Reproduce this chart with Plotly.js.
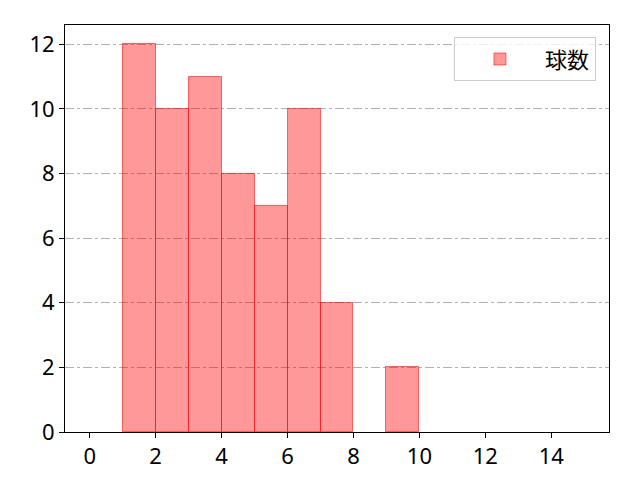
<!DOCTYPE html>
<html>
<head>
<meta charset="utf-8">
<script src="https://cdn.plot.ly/plotly-3.0.1.min.js"></script>
<style>body{margin:0;background:#fff}#chart{width:640px;height:480px}</style>
</head>
<body>
<div id="chart"></div>
<script>
// histogram bins (left edges) and counts
var binLeft = [1, 2, 3, 4, 5, 6, 7, 8, 9];
var counts = [12, 10, 11, 8, 7, 10, 4, 0, 2];
var seriesName = '球数';
var xTicks = [0, 2, 4, 6, 8, 10, 12, 14];
var yTicks = [0, 2, 4, 6, 8, 10, 12];

var trace = {
  x: binLeft.map(function (b) { return b + 0.5; }),
  y: counts,
  width: 1,
  type: 'bar',
  name: seriesName,
  showlegend: true,
  marker: {
    color: 'rgba(255,0,0,0.4)',
    // no outline on empty bins
    line: {color: 'rgba(255,0,0,0.55)', width: counts.map(function (c) { return c > 0 ? 1 : 0; })}
  }
};

var tickFont = {family: '"Noto Sans", sans-serif', size: 22, color: '#000'};

var layout = {
  width: 640, height: 480,
  margin: {l: 65, r: 31, t: 25, b: 48},
  font: {family: '"Noto Sans CJK JP", sans-serif', size: 20, color: '#000'},
  paper_bgcolor: '#fff', plot_bgcolor: '#fff',
  bargap: 0,
  xaxis: {
    range: [-0.75, 15.75], tickvals: xTicks, ticks: 'outside', ticklen: 5, tickcolor: '#000',
    tickfont: tickFont,
    showgrid: false, zeroline: false, showline: true, mirror: true, linecolor: '#000', linewidth: 1
  },
  yaxis: {
    range: [0, 12.6], tickvals: yTicks, ticks: 'outside', ticklen: 5, tickcolor: '#000',
    tickfont: tickFont,
    showgrid: true, gridcolor: '#b0b0b0', griddash: 'dashdot', gridwidth: 1,
    zeroline: false, showline: true, mirror: true, linecolor: '#000', linewidth: 1
  },
  showlegend: true,
  legend: {
    x: 0.976, y: 0.97, xanchor: 'right', yanchor: 'top',
    bordercolor: '#cccccc', borderwidth: 1, bgcolor: 'rgba(255,255,255,0.8)',
    font: {family: '"Noto Sans CJK JP", sans-serif', size: 22, color: '#000'}, itemwidth: 80
  }
};

Plotly.newPlot('chart', [trace], layout, {displayModeBar: false});
</script>
</body>
</html>
